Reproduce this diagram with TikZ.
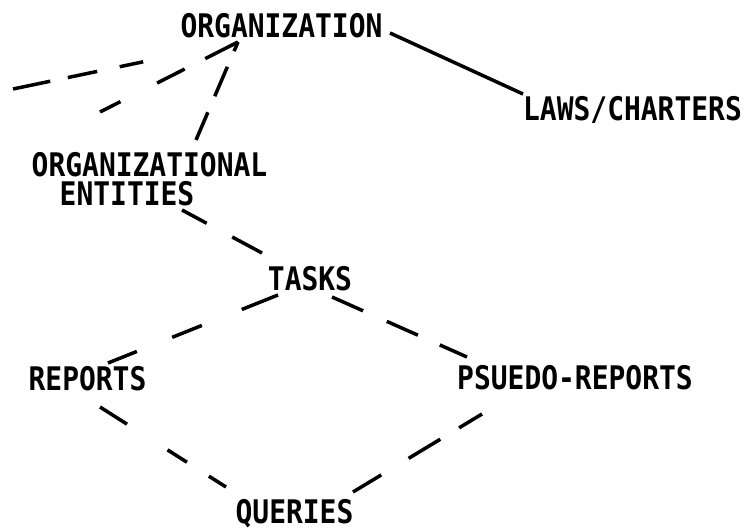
\documentclass[tikz,border=0pt]{standalone}
\usepackage{fontspec}
\setmainfont{DejaVu Sans Mono}[FakeStretch=0.86]
\begin{document}
\begin{tikzpicture}[x=1pt,y=-1pt,
  lbl/.style={inner sep=0pt, font=\fontsize{32.5}{34}\selectfont\bfseries},
  link/.style={line width=3.5pt}]
\useasboundingbox (0,0) rectangle (747,531);
% nodes
\node[lbl,anchor=base] (org) at (281.5,37.5) {ORGANIZATION};
\node[lbl,anchor=base] (laws) at (632.5,120.5) {LAWS/CHARTERS};
\node[lbl,anchor=north west,align=left,font=\fontsize{32.5}{29.5}\selectfont\bfseries] (orgent) at (31.5,152) {ORGANIZATIONAL\\\hspace*{28pt}ENTITIES};
\node[lbl,anchor=base] (tasks) at (310,290) {TASKS};
\node[lbl,anchor=base] (reports) at (87.5,390) {REPORTS};
\node[lbl,anchor=base] (pseudo) at (575,389) {PSUEDO-REPORTS};
\node[lbl,anchor=base] (queries) at (294.5,523) {QUERIES};
\coordinate (c1) at (13,89);
\coordinate (c2) at (100,112);
% connectors
\draw[link] ([shift={(108.5,-4.5)}]org.base) -- ([shift={(-109.5,-26.5)}]laws.base);
\draw[link,dash pattern=on 38pt off 18pt on 30pt off 23pt on 24pt off 300pt] (c1) -- ([shift={(-43.5,4.5)}]org.base);
\draw[link,dash pattern=on 23pt off 41pt on 31pt off 23pt on 40pt] (c2) -- ([shift={(-43.5,4.5)}]org.base);
\draw[link,dash pattern=on 10pt off 17pt on 32pt off 17.5pt on 40pt] ([shift={(-43.5,4.5)}]org.base) -- ([shift={(164.5,-12)}]orgent.north west);
\draw[link,dash pattern=on 28pt off 29pt on 40pt] ([shift={(150.5,58)}]orgent.north west) -- ([shift={(-48,-37)}]tasks.base);
\draw[link,dash pattern=on 39pt off 43pt on 32pt off 38pt on 40pt] ([shift={(-32,5)}]tasks.base) -- ([shift={(20.5,-27)}]reports.base);
\draw[link,dash pattern=on 34pt off 26pt on 34pt off 24pt on 40pt] ([shift={(22,7)}]tasks.base) -- ([shift={(-108,-32)}]pseudo.base);
\draw[link,dash pattern=on 32pt off 48pt on 23pt off 26pt on 30pt] ([shift={(12.5,17)}]reports.base) -- ([shift={(-68.5,-36)}]queries.base);
\draw[link,dash pattern=on 33pt off 32pt on 37pt off 22pt on 40pt] ([shift={(58.5,-31)}]queries.base) -- ([shift={(-93,25)}]pseudo.base);
\end{tikzpicture}
\end{document}
